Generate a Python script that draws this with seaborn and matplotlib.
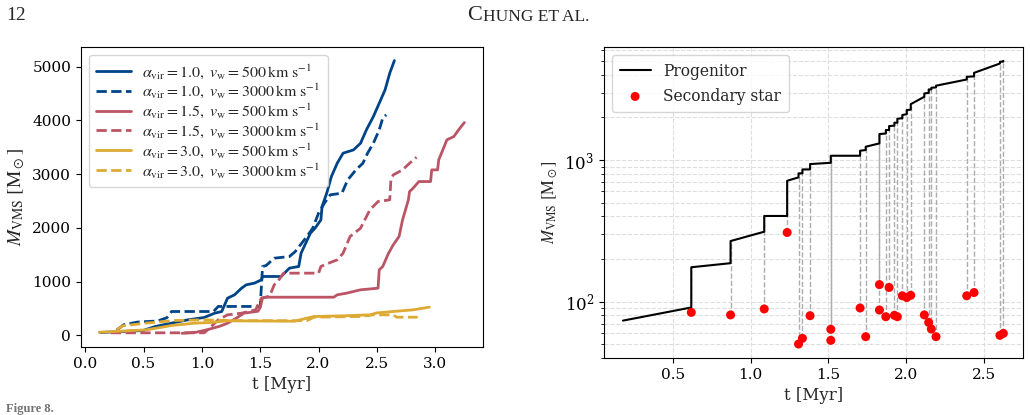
import matplotlib
matplotlib.use("Agg")
import matplotlib.pyplot as plt
import seaborn as sns
import numpy as np

# ---------- left panel: VMS mass growth for each run ----------
a10_500_t = [0.13, 0.50, 0.52, 0.60, 0.71, 0.88, 1.02, 1.11, 1.17, 1.22, 1.28, 1.34, 1.38, 1.45,
             1.51, 1.52, 1.68, 1.75, 1.83, 1.85, 1.89, 1.93, 1.97, 2.02, 2.03, 2.07, 2.11, 2.16,
             2.21, 2.30, 2.36, 2.41, 2.47, 2.52, 2.57, 2.61, 2.65]
a10_500_m = [56, 93, 110, 167, 217, 291, 335, 415, 446, 694, 756, 880, 942, 973,
             1035, 1097, 1097, 1252, 1283, 1530, 1716, 1902, 1995, 2150, 2398, 2646, 2955, 3203,
             3389, 3451, 3575, 3823, 4071, 4318, 4566, 4876, 5111]

a10_3000_t = [0.27, 0.33, 0.45, 0.62, 0.70, 0.74, 1.10, 1.14, 1.50, 1.52, 1.55, 1.62, 1.75, 1.80,
              1.85, 1.90, 1.95, 2.00, 2.05, 2.10, 2.20, 2.25, 2.32, 2.38, 2.42, 2.47, 2.52, 2.55, 2.58]
a10_3000_m = [100, 200, 250, 270, 330, 446, 446, 540, 540, 1283, 1300, 1437, 1468, 1560,
              1700, 1840, 1995, 2274, 2460, 2615, 2646, 2893, 3079, 3203, 3389, 3575, 3823, 4040, 4102]

a15_500_t = [0.83, 0.95, 1.05, 1.15, 1.22, 1.30, 1.36, 1.48, 1.50, 1.52, 1.55, 2.13, 2.16, 2.24,
             2.30, 2.36, 2.51, 2.52, 2.55, 2.60, 2.64, 2.69, 2.72, 2.77, 2.78, 2.81, 2.86, 2.96,
             2.97, 3.02, 3.03, 3.10, 3.16, 3.20, 3.25]
a15_500_m = [40, 60, 110, 170, 229, 330, 415, 450, 520, 700, 712, 712, 756, 787,
             818, 849, 880, 1221, 1283, 1530, 1685, 1840, 2150, 2522, 2676, 2738, 2862, 2862,
             3079, 3079, 3265, 3637, 3699, 3823, 3959]

a15_3000_t = [0.22, 1.02, 1.05, 1.14, 1.22, 1.34, 1.46, 1.51, 1.58, 1.62, 1.65, 1.70, 2.00, 2.02,
              2.07, 2.16, 2.21, 2.27, 2.36, 2.44, 2.51, 2.61, 2.62, 2.64, 2.72, 2.78, 2.84]
a15_3000_m = [50, 50, 105, 291, 384, 415, 477, 694, 730, 942, 1004, 1159, 1159, 1283,
              1332, 1406, 1530, 1840, 1995, 2336, 2491, 2522, 2893, 2986, 3079, 3203, 3315]

a30_500_t = [0.12, 0.30, 0.52, 0.66, 0.74, 0.94, 1.08, 1.22, 1.50, 1.79, 1.96, 2.21, 2.44, 2.50,
             2.64, 2.81, 2.95]
a30_500_m = [60, 80, 105, 155, 186, 229, 242, 273, 270, 265, 353, 366, 384, 420,
             446, 477, 527]

a30_3000_t = [0.27, 0.32, 0.52, 0.77, 1.02, 1.30, 1.90, 1.96, 2.36, 2.47, 2.64, 2.67, 2.85]
a30_3000_m = [105, 180, 229, 279, 291, 275, 275, 340, 353, 384, 384, 340, 340]

# ---------- right panel: progenitor + merging secondaries ----------
merge_t = [0.620, 0.872, 1.088, 1.235, 1.308, 1.333, 1.382, 1.515, 1.703, 1.739, 1.827, 1.868,
           1.889, 1.923, 1.942, 1.974, 2.002, 2.028, 2.115, 2.143, 2.160, 2.190, 2.387, 2.434,
           2.600, 2.622]
m_before = [91, 187, 312, 403, 755, 806, 859, 957, 1073, 1177, 1312, 1540,
            1630, 1750, 1836, 1975, 2110, 2270, 2800, 2980, 3155, 3260, 3707, 3900,
            4808, 4960]
m_after = [175, 268, 403, 714, 806, 859, 937, 1073, 1165, 1242, 1527, 1630,
           1738, 1836, 1958, 2080, 2254, 2483, 2956, 3155, 3243, 3351, 3873, 4130,
           4946, 5020]
prog_start_t, prog_start_m = 0.182, 73.5

sec_t = [0.620, 0.872, 1.088, 1.235, 1.308, 1.333, 1.382, 1.515, 1.515, 1.703, 1.739, 1.827,
         1.827, 1.868, 1.889, 1.923, 1.942, 1.974, 2.002, 2.028, 2.115, 2.143, 2.160, 2.190,
         2.387, 2.434, 2.600, 2.622]
sec_m = [84, 80.6, 88.8, 308, 50.2, 55.1, 79.6, 63.8, 53.3, 90.2, 56.6, 132,
         87.3, 78.3, 126, 80.1, 78.3, 110, 107, 111, 80.6, 71.4, 64.1, 56.6,
         110, 116, 57.8, 59.7]

sns.set_style("ticks")
plt.rcParams["font.family"] = ["DejaVu Serif"]
plt.rcParams["mathtext.fontset"] = "stix"
plt.rcParams["font.size"] = 11
plt.rcParams["axes.edgecolor"] = "black"
plt.rcParams["xtick.color"] = "black"
plt.rcParams["ytick.color"] = "black"

fig = plt.figure(figsize=(10.3, 4.15), dpi=100)
ax1 = fig.add_axes([0.0786, 0.1639, 0.390, 0.723])
ax2 = fig.add_axes([0.5864, 0.1373, 0.4068, 0.749])

blue, red, yellow = "#004488", "#BB5566", "#DDAA33"
runs = [
    (a10_500_t, a10_500_m, blue, "-", "1.0", "500"),
    (a10_3000_t, a10_3000_m, blue, "--", "1.0", "3000"),
    (a15_500_t, a15_500_m, red, "-", "1.5", "500"),
    (a15_3000_t, a15_3000_m, red, "--", "1.5", "3000"),
    (a30_500_t, a30_500_m, yellow, "-", "3.0", "500"),
    (a30_3000_t, a30_3000_m, yellow, "--", "3.0", "3000"),
]
for t, m, c, ls, av, vw in runs:
    lab = r"$\alpha_{\rm vir} = " + av + r",\ v_{\rm w} = " + vw + r"\,{\rm km\ s^{-1}}$"
    sns.lineplot(x=t, y=m, ax=ax1, color=c, linestyle=ls, lw=2, sort=False,
                 estimator=None, label=lab)

ax1.set_xticks([0.0, 0.5, 1.0, 1.5, 2.0, 2.5, 3.0])
ax1.set_xlabel("t [Myr]", fontsize=12)
ax1.set_ylabel(r"$M_{\rm VMS}\ [{\rm M}_\odot]$", fontsize=14)
ax1.legend(loc="upper left", fontsize=11.5, handlelength=2.2, labelspacing=0.08,
           borderpad=0.45, handletextpad=0.7)

# progenitor track with jumps at each merger
prog_t = [prog_start_t]
prog_m = [prog_start_m]
for t, mb, ma in zip(merge_t, m_before, m_after):
    prog_t += [t, t]
    prog_m += [mb, ma]

ax2.set_yscale("log")
ax2.grid(True, which="both", ls="--", color="0.87", lw=0.8)
top = dict(zip(merge_t, m_after))
ax2.vlines(sec_t, sec_m, [top[t] for t in sec_t], colors="0.68", linestyles="--", lw=1,
           zorder=1)
sns.lineplot(x=prog_t, y=prog_m, ax=ax2, color="black", lw=1.5, sort=False,
             estimator=None, label="Progenitor", zorder=2)
sns.scatterplot(x=sec_t, y=sec_m, ax=ax2, color="red", s=42, edgecolor="none",
                label="Secondary star", zorder=3)
ax2.set_xlim(0.06, 2.748)
ax2.set_ylim(40, 6270)
ax2.set_xticks([0.5, 1.0, 1.5, 2.0, 2.5])
ax2.tick_params(axis="y", which="major", labelsize=12)
ax2.set_xlabel("t [Myr]", fontsize=12)
ax2.set_ylabel(r"$M_{\rm VMS}\ [{\rm M}_\odot]$", fontsize=12)
ax2.legend(loc="upper left", fontsize=11.2, handlelength=2.0, borderpad=0.5)

# page furniture
fig.text(0.006, 0.963, "12", family="Liberation Serif", fontsize=14, va="center")
fig.text(0.4534, 0.963, "C", family="Liberation Serif", fontsize=16, va="center")
fig.text(0.4685, 0.960, "HUNG ET AL.", family="Liberation Serif", fontsize=12.5, va="center")
fig.text(0.006, 0.0, "Figure 8.", family="Liberation Serif", fontsize=9,
         fontweight="bold", color="0.45", va="bottom")

fig.savefig("out.png", dpi=100)
